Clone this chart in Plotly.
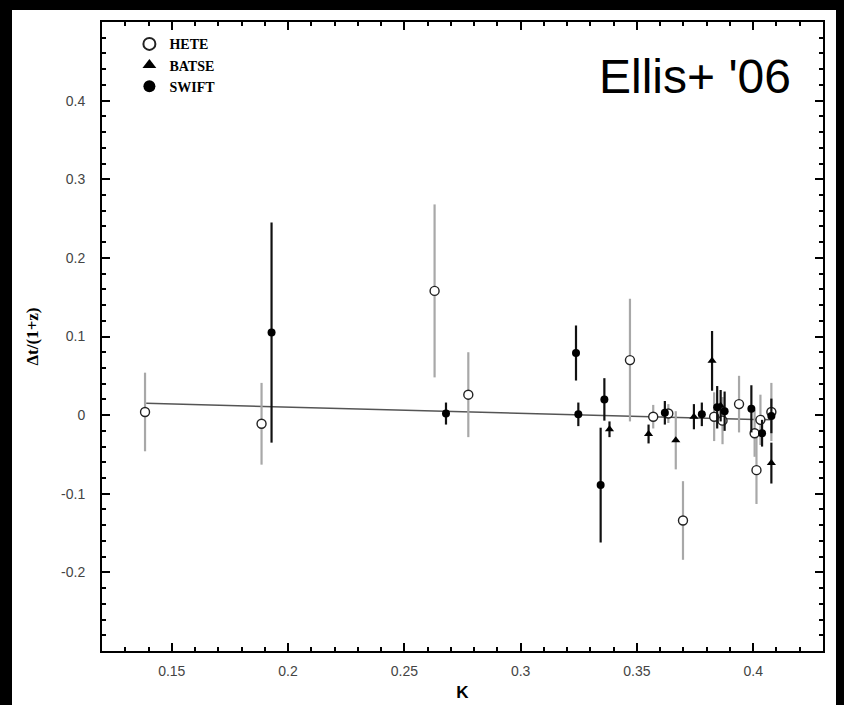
import plotly.graph_objects as go

# ---- data ----
HETE_K = [0.1385, 0.1886, 0.263, 0.2775, 0.347, 0.357, 0.3635, 0.3698, 0.3832, 0.3868, 0.3939, 0.4006, 0.4014, 0.4031, 0.4078]
HETE_V = [0.004, -0.011, 0.158, 0.026, 0.070, -0.002, 0.002, -0.134, -0.002, -0.007, 0.014, -0.023, -0.070, -0.006, 0.004]
HETE_E = [0.050, 0.052, 0.110, 0.054, 0.078, 0.015, 0.012, 0.050, 0.031, 0.030, 0.036, 0.030, 0.043, 0.032, 0.037]

BATSE_K = [0.3382, 0.355, 0.3745, 0.3823, 0.386, 0.4078]
BATSE_V = [-0.018, -0.024, -0.002, 0.069, 0.012, -0.061]
BATSE_E = [0.010, 0.012, 0.016, 0.038, 0.020, 0.026]
BATSE_GRAY_K = [0.3667]
BATSE_GRAY_V = [-0.032]
BATSE_GRAY_E = [0.037]

SWIFT_K = [0.1929, 0.2679, 0.3238, 0.3248, 0.3344, 0.336, 0.362, 0.3779, 0.3845, 0.3877, 0.3992, 0.4038, 0.4078]
SWIFT_V = [0.105, 0.002, 0.079, 0.001, -0.089, 0.020, 0.003, 0.001, 0.010, 0.005, 0.008, -0.023, -0.001]
SWIFT_E = [0.140, 0.014, 0.035, 0.015, 0.073, 0.027, 0.015, 0.015, 0.027, 0.025, 0.030, 0.017, 0.022]

FIT_K = [0.139, 0.408]
FIT_V = [0.015, -0.006]

X_TICKS = [0.15, 0.2, 0.25, 0.3, 0.35, 0.4]
X_LABELS = ["0.15", "0.2", "0.25", "0.3", "0.35", "0.4"]
Y_TICKS = [-0.2, -0.1, 0, 0.1, 0.2, 0.3, 0.4]
Y_LABELS = ["-0.2", "-0.1", "0", "0.1", "0.2", "0.3", "0.4"]

fig = go.Figure()

fig.add_trace(go.Scatter(x=FIT_K, y=FIT_V, mode="lines",
                         line=dict(color="#555555", width=1.5), showlegend=False, hoverinfo="skip"))

def err(arr, color):
    return dict(type="data", array=arr, visible=True, color=color, thickness=2.2, width=0)

fig.add_trace(go.Scatter(x=HETE_K, y=HETE_V, mode="markers", name="HETE",
                         error_y=err(HETE_E, "#a8a8a8"),
                         marker=dict(symbol="circle", size=9, color="white",
                                     line=dict(color="#222222", width=1.4))))
fig.add_trace(go.Scatter(x=BATSE_GRAY_K, y=BATSE_GRAY_V, mode="markers", name="BATSE",
                         error_y=err(BATSE_GRAY_E, "#a8a8a8"), showlegend=False,
                         marker=dict(symbol="triangle-up", size=8, color="black")))
fig.add_trace(go.Scatter(x=BATSE_K, y=BATSE_V, mode="markers", name="BATSE",
                         error_y=err(BATSE_E, "#111111"),
                         marker=dict(symbol="triangle-up", size=8, color="black")))
fig.add_trace(go.Scatter(x=SWIFT_K, y=SWIFT_V, mode="markers", name="SWIFT",
                         error_y=err(SWIFT_E, "#111111"),
                         marker=dict(symbol="circle", size=8, color="black")))

axis_common = dict(showline=True, linecolor="black", linewidth=2, mirror="ticks",
                   ticks="inside", ticklen=8, tickwidth=1.5, tickcolor="black",
                   showgrid=False, zeroline=False,
                   tickfont=dict(family="Liberation Sans, Arial", size=14, color="#444444"))

fig.update_xaxes(range=[0.12, 0.43], tickvals=X_TICKS, ticktext=X_LABELS,
                 minor=dict(dtick=0.01, tick0=0.12, ticks="inside", ticklen=4, tickwidth=1.5, tickcolor="black"),
                 title=dict(text="<b>K</b>", font=dict(family="Liberation Sans, Arial", size=17, color="black"),
                            standoff=8),
                 ticklabelstandoff=6,
                 **axis_common)
fig.update_yaxes(range=[-0.3, 0.5], tickvals=Y_TICKS, ticktext=Y_LABELS,
                 minor=dict(dtick=0.02, tick0=0, ticks="inside", ticklen=4, tickwidth=1.5, tickcolor="black"),
                 title=dict(text="<b>Δt/(1+z)</b>", font=dict(family="Liberation Serif, Times New Roman", size=17, color="black"),
                            standoff=18),
                 ticklabelstandoff=12,
                 **axis_common)

fig.add_annotation(text="Ellis+ '06", xref="paper", yref="paper", x=0.8225, y=0.914,
                   xanchor="center", yanchor="middle", showarrow=False,
                   font=dict(family="Liberation Sans, Arial", size=48, color="black"))

# white page inside the black frame
fig.add_shape(type="rect", xref="paper", yref="paper", layer="below",
              x0=(12 - 102) / 721, x1=(836 - 102) / 721, y0=(651 - 705) / 629, y1=(651 - 10) / 629,
              fillcolor="white", line=dict(width=0))

fig.update_layout(
    width=844, height=705,
    margin=dict(l=102, r=21, t=22, b=54, autoexpand=False),
    paper_bgcolor="black", plot_bgcolor="white",
    showlegend=True,
    legend=dict(x=0.038, y=0.99, xanchor="left", yanchor="top", bgcolor="rgba(0,0,0,0)",
                font=dict(family="Liberation Serif, Times New Roman", size=14, color="black"),
                tracegroupgap=0, itemsizing="constant"),
)
for tr in fig.data:
    if tr.name:
        tr.name = "<b>" + tr.name + "</b>"

fig.write_html("out.html")
